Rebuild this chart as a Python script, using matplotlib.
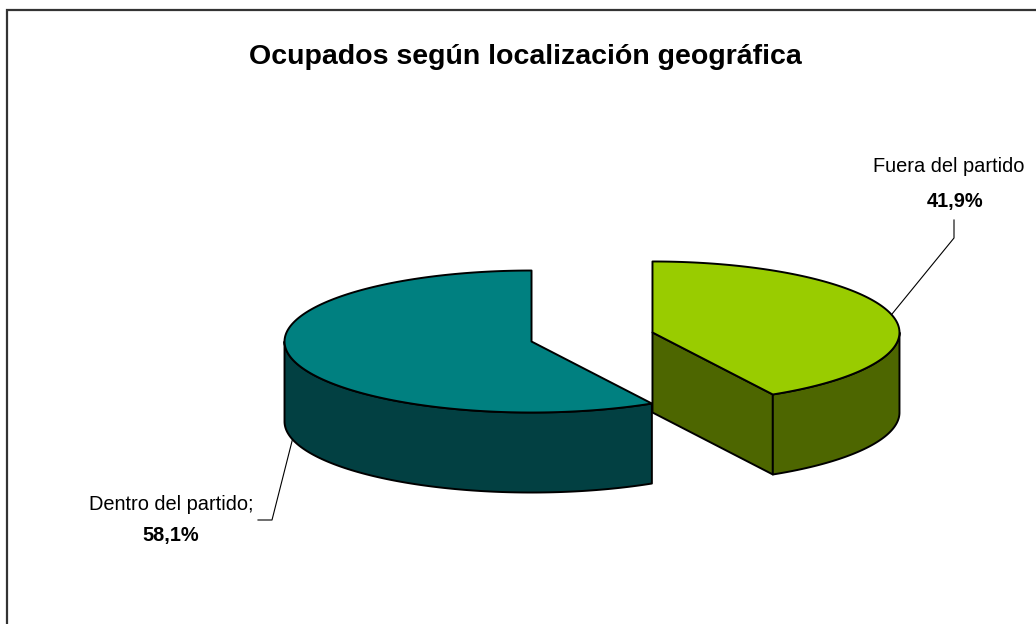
import numpy as np
import matplotlib
matplotlib.use("Agg")
import matplotlib.pyplot as plt
from matplotlib.patches import Polygon

# data
labels = ["Fuera del partido", "Dentro del partido;"]
shares = [41.9, 58.1]
top_colors = ["#99CC00", "#008080"]
side_colors = ["#4D6600", "#024042"]
title = "Ocupados según localización geográfica"

# pie geometry (pixels)
CX, CY = 592, 337      # centre of the un-exploded pie
A, B = 247, 71         # ellipse half axes
DEPTH = 80
EXPLODE = 0.253

plt.rcParams['font.family'] = ['Liberation Sans', 'DejaVu Sans']

fig = plt.figure(figsize=(10.36, 6.24), dpi=100)
ax = fig.add_axes([0, 0, 1, 1])
ax.set_xlim(0, 1036)
ax.set_ylim(624, 0)
ax.axis('off')


def rim(cx, cy, t, dz=0):
    # t in radians, clockwise from 12 o'clock
    return cx + A * np.sin(t), cy - B * np.cos(t) + dz


def draw_slice(t0, t1, top, side):
    mid = (t0 + t1) / 2
    cx = CX + EXPLODE * A * np.sin(mid)
    cy = CY - EXPLODE * B * np.cos(mid)
    kw = dict(edgecolor='black', linewidth=1.4, joinstyle='round')

    # radial walls facing the viewer
    for t, n in ((t0, t0 - np.pi / 2), (t1, t1 + np.pi / 2)):
        if np.cos(n) < -1e-6:
            x, y = rim(cx, cy, t)
            pts = [(cx, cy), (x, y), (x, y + DEPTH), (cx, cy + DEPTH)]
            ax.add_patch(Polygon(pts, facecolor=side, **kw))

    # outer wall, front half only
    a0, a1 = max(t0, np.pi / 2), min(t1, 3 * np.pi / 2)
    if a1 > a0:
        tt = np.linspace(a0, a1, 120)
        xs, ys = rim(cx, cy, tt)
        pts = list(zip(xs, ys)) + list(zip(xs[::-1], ys[::-1] + DEPTH))
        ax.add_patch(Polygon(pts, facecolor=side, **kw))

    # top face
    tt = np.linspace(t0, t1, 200)
    xs, ys = rim(cx, cy, tt)
    pts = [(cx, cy)] + list(zip(xs, ys))
    ax.add_patch(Polygon(pts, facecolor=top, **kw))
    return cx, cy, mid


angles = np.concatenate([[0], np.cumsum(shares) / np.sum(shares) * 2 * np.pi])
res = {}
for i in [1, 0]:  # back-left slice first
    res[i] = draw_slice(angles[i], angles[i + 1], top_colors[i], side_colors[i])

pct = [f"{v:.1f}".replace('.', ',') + '%' for v in shares]

# Fuera label + leader
cx, cy, mid = res[0]
px, py = rim(cx, cy, mid)
ax.plot([px, 954, 954], [py, 238, 220], color='black', lw=0.8)
ax.text(949, 167, labels[0], ha='center', va='center', fontsize=14.4)
ax.text(955, 201, pct[0], ha='center', va='center', fontsize=14.4, fontweight='bold')

# Dentro label + leader
cx, cy, mid = res[1]
px, py = rim(cx, cy, mid, DEPTH)
ax.plot([px, 272, 258], [py, 520, 520], color='black', lw=0.8)
ax.text(171, 505, labels[1], ha='center', va='center', fontsize=14.4)
ax.text(171, 535, pct[1], ha='center', va='center', fontsize=14.4, fontweight='bold')

ax.text(525, 57, title, ha='center', va='center', fontsize=20.5, fontweight='bold')

# chart frame (only top and left visible)
ax.plot([7, 7, 1036], [624, 9.5, 9.5], color='#333333', lw=1.6, solid_joinstyle='miter')

fig.savefig("out.png", dpi=100)
